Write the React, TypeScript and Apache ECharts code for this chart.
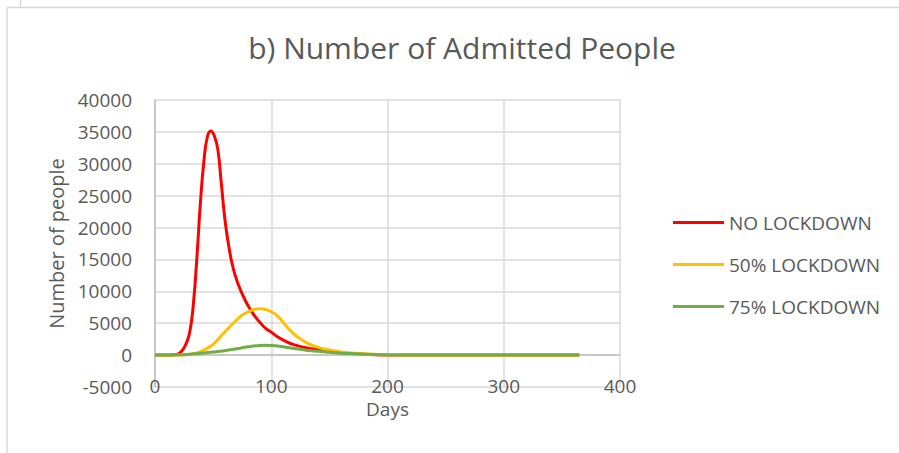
import React, { useEffect, useRef } from "react";
import * as echarts from "echarts";

const seriesNames = ["NO LOCKDOWN", "50% LOCKDOWN", "75% LOCKDOWN"];
const seriesColors = ["#FF0000", "#FFC000", "#70AD47"];

const noLockdown: [number, number][] = [
  [0, 0], [12, 0], [18, 80], [21, 300], [24, 850], [27, 1900], [30, 3700], [33, 8000],
  [36, 15200], [39, 23700], [42, 30300], [45, 34200], [48, 35150], [51, 34400], [54, 32300],
  [57, 27000], [60, 21500], [63, 17600], [66, 14600], [69, 12500], [72, 10900], [75, 9600],
  [78, 8450], [81, 7450], [84, 6600], [87, 5850], [90, 5200], [95, 4250], [100, 3600],
  [106, 2800], [113, 2100], [120, 1600], [133, 1050], [150, 550], [170, 200], [190, 60],
  [210, 15], [250, 0], [300, 0], [365, 0],
];
const lockdown50: [number, number][] = [
  [0, 0], [20, 20], [30, 120], [38, 450], [45, 1100], [50, 1700], [56, 2850], [62, 4000],
  [67, 4950], [72, 5800], [76, 6400], [82, 6950], [88, 7250], [92, 7280], [96, 7100],
  [100, 6800], [105, 6200], [110, 5200], [114, 4300], [119, 3400], [125, 2550], [132, 1800],
  [139, 1300], [150, 800], [160, 500], [175, 250], [190, 110], [210, 40], [240, 10],
  [270, 0], [365, 0],
];
const lockdown75: [number, number][] = [
  [0, 0], [20, 50], [30, 150], [40, 300], [50, 480], [60, 700], [70, 1000], [80, 1300],
  [90, 1500], [95, 1530], [100, 1500], [110, 1300], [120, 1030], [130, 780], [140, 590],
  [150, 450], [165, 260], [180, 130], [200, 50], [230, 10], [260, 0], [365, 0],
];

const xMin = 0, xMax = 400, xStep = 100;
const yMin = -5000, yMax = 40000, yStep = 5000;

const FONT = "'Open Sans', sans-serif";
const TEXT = "#595959";

export default function App() {
  const ref = useRef<HTMLDivElement>(null);
  useEffect(() => {
    if (!ref.current) return;
    const chart = echarts.init(ref.current, undefined, { renderer: "svg" });
    const data = [noLockdown, lockdown50, lockdown75];
    const lines: any[] = seriesNames.map((name, i) => ({
      name,
      type: "line",
      data: data[i],
      smooth: 0.5,
      showSymbol: false,
      symbol: "none",
      color: seriesColors[i],
      lineStyle: { color: seriesColors[i], width: 3 },
      z: 3 + i,
    }));
    lines.unshift({
      name: "zero",
      type: "line",
      data: [],
      z: 1,
      silent: true,
      markLine: {
        silent: true,
        symbol: "none",
        label: { show: false },
        lineStyle: { color: "#bfbfbf", width: 1.5, type: "solid" },
        data: [{ yAxis: 0 }],
      },
    });
    chart.setOption({
      animation: false,
      backgroundColor: "#ffffff",
      textStyle: { fontFamily: FONT },
      title: {
        text: "b) Number of Admitted People",
        left: 457,
        textAlign: "center",
        top: 27,
        textStyle: { fontFamily: FONT, fontSize: 30, fontWeight: "normal", color: TEXT },
      },
      graphic: [
        { type: "line", shape: { x1: 7, y1: 7.5, x2: 899, y2: 7.5 }, style: { stroke: "#d9d9d9", lineWidth: 1.5 } },
        { type: "line", shape: { x1: 7, y1: 7.5, x2: 7, y2: 453 }, style: { stroke: "#d9d9d9", lineWidth: 1.5 } },
        { type: "line", shape: { x1: 20.5, y1: 0, x2: 20.5, y2: 7 }, style: { stroke: "#d9d9d9", lineWidth: 1.5 } },
      ],
      legend: {
        orient: "vertical",
        left: 668,
        top: 208,
        itemWidth: 51,
        itemHeight: 3,
        itemGap: 23,
        icon: "rect",
        textStyle: { fontFamily: FONT, fontSize: 19, color: TEXT },
        data: seriesNames,
      },
      grid: { left: 155, right: 279, top: 100, bottom: 66, outerBoundsMode: "none" },
      xAxis: {
        type: "value",
        min: xMin,
        max: xMax,
        interval: xStep,
        name: "Days",
        nameLocation: "middle",
        nameGap: 10,
        nameTextStyle: { fontFamily: FONT, fontSize: 19, color: TEXT },
        axisLine: { show: false, onZero: false },
        axisTick: { show: false },
        axisLabel: { margin: -11, fontFamily: FONT, fontSize: 19, color: TEXT },
        splitLine: { show: true, lineStyle: { color: "#d9d9d9", width: 1.5 } },
      },
      yAxis: {
        type: "value",
        min: yMin,
        max: yMax,
        interval: yStep,
        name: "Number of people",
        nameLocation: "middle",
        nameGap: 81,
        nameTextStyle: { fontFamily: FONT, fontSize: 20, color: TEXT },
        axisLine: { show: true, onZero: false, lineStyle: { color: "#bfbfbf", width: 1.5 } },
        axisTick: { show: false },
        axisLabel: {
          margin: 23,
          fontFamily: FONT,
          fontSize: 19,
          color: TEXT,
          formatter: (v: number) => String(v),
        },
        splitLine: { show: true, lineStyle: { color: "#d9d9d9", width: 1.5 } },
      },
      series: lines,
    });
    return () => chart.dispose();
  }, []);
  return (
    <div
      ref={ref}
      style={{ position: "fixed", left: 0, top: 0, width: 899, height: 453, background: "#fff" }}
    />
  );
}
